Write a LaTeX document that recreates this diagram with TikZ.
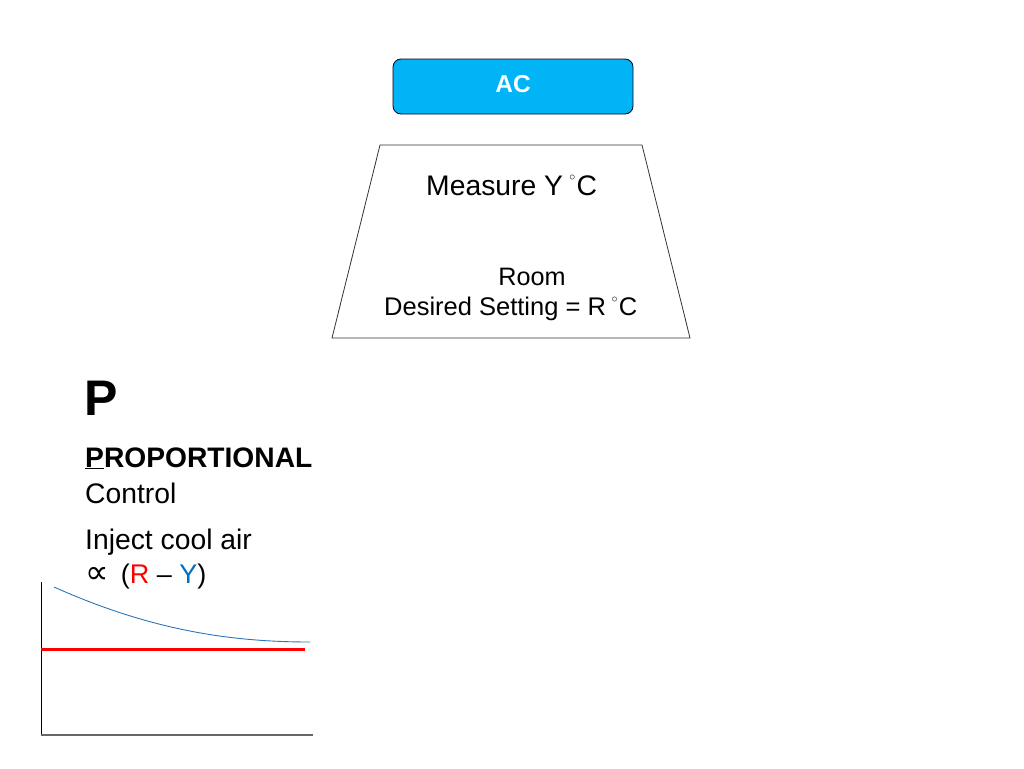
\documentclass[tikz,border=0pt]{standalone}
\usepackage{fontspec}
\setmainfont{Liberation Sans}
\newfontfamily\dejavu{DejaVu Sans}
\definecolor{acblue}{HTML}{00B4F5}
\definecolor{ry}{HTML}{0070C0}
\definecolor{curveblue}{HTML}{2E75B6}
\tikzset{
  acbox/.style={draw=black!85!blue, fill=acblue, rounded corners=8pt, line width=0.8pt},
  txt/.style={inner sep=0pt, anchor=base west, font=\fontsize{28.3}{30}\selectfont},
}
\newcommand{\degc}{\hspace{0.22em}\raisebox{0.5em}{\fontsize{12}{12}\selectfont$\circ$}\hspace{0.05em}C}
\begin{document}
\begin{tikzpicture}[x=1pt,y=-1pt]
\useasboundingbox (0,0) rectangle (1024,768);
% AC box
\draw[acbox] (393,59) rectangle (633,114);
\node[inner sep=0pt, text=white, font=\fontsize{24.5}{26}\selectfont\bfseries] (ac) at (513,84) {AC};
% trapezoid room
\draw[line width=0.8pt, draw=black!80] (380,145) -- (642,145) -- (690,338) -- (332,338) -- cycle;
\node[inner sep=0pt, anchor=base west, font=\fontsize{28.3}{30}\selectfont] (meas) at (426,195) {Measure Y\degc};
\node[inner sep=0pt, anchor=base, font=\fontsize{25.2}{28}\selectfont] (room) at (532,285) {Room};
\node[inner sep=0pt, anchor=base west, font=\fontsize{25.5}{28}\selectfont] (des) at (384,315) {Desired Setting = R\degc};
% left text
\node[txt, font=\fontsize{50}{52}\selectfont\bfseries] (p) at (84,415) {P};
\node[txt, font=\fontsize{28.2}{30}\selectfont\bfseries] (prop) at (85,467) {\underline{P}ROPORTIONAL};
\node[txt] (ctrl) at (85,503) {Control};
\node[txt] (inj) at (85,549) {Inject cool air};
\node[txt, font=\fontsize{27}{30}\selectfont] (prop2) at (85,583) {{\dejavu\fontsize{33}{34}\selectfont ∝}\hspace{0.45em}(\textcolor{red}{R} -- \textcolor{ry}{Y})};
% graph
\draw[line width=1pt, black] (41,582) -- (41,735);
\draw[line width=1.2pt, black!60] (41,735) -- (313,735);
\draw[line width=3pt, red] (41,649) -- (305,649);
\draw[line width=0.9pt, curveblue] (54,587) .. controls (150,630) and (230,642) .. (310,642);
\end{tikzpicture}
\end{document}
